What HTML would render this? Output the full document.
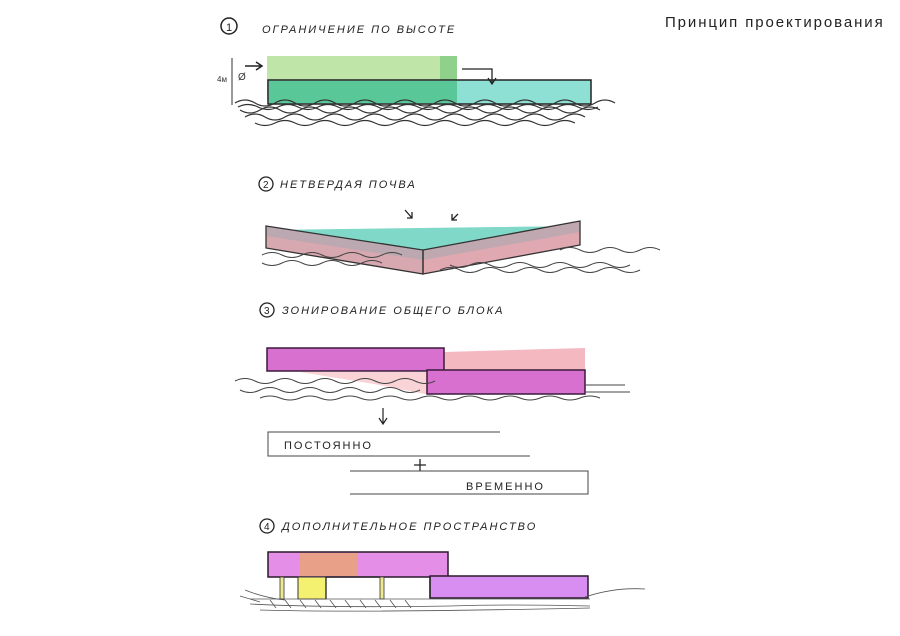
<!DOCTYPE html>
<html><head><meta charset="utf-8"><style>
body{margin:0;background:#fff;width:900px;height:636px;overflow:hidden;font-family:"Liberation Sans","Noto Sans CJK SC",sans-serif}
svg{position:absolute;left:0;top:0}
.t{font-family:"Liberation Sans",sans-serif;font-style:italic;fill:#222;letter-spacing:2px}
</style></head><body>
<svg width="900" height="636" viewBox="0 0 900 636">
<text x="665" y="27" font-size="15" fill="#222" font-family="Liberation Sans,sans-serif" letter-spacing="1.9">Принцип проектирования</text>

<!-- 1 -->
<circle cx="229" cy="26" r="8" fill="none" stroke="#222" stroke-width="1.5"/>
<text x="226" y="31" font-size="11" fill="#222">1</text>
<text x="262" y="33" font-size="11" class="t">ОГРАНИЧЕНИЕ ПО ВЫСОТЕ</text>
<rect x="267" y="56" width="190" height="44" fill="#bfe6a8"/>
<rect x="440" y="56" width="17" height="44" fill="#8fd08a"/>
<rect x="268" y="80" width="323" height="24" fill="#8fe0d4" stroke="#222" stroke-width="1.5"/>
<rect x="269" y="81" width="188" height="22" fill="#4cc08a" opacity="0.8"/>
<path d="M245 66 H262 M256 62 L262 66 L256 70" fill="none" stroke="#222" stroke-width="1.5"/>
<path d="M462 69 H492 V83 M488 78 L492 84 L496 78" fill="none" stroke="#222" stroke-width="1.3"/>
<path d="M232 58 V105" stroke="#333" stroke-width="1"/>
<text x="217" y="82" font-size="8" fill="#333">4м</text>
<text x="238" y="80" font-size="10" fill="#333">Ø</text>
<g fill="none" stroke="#333" stroke-width="1.2">
<path d="M235 103 q10 -6 20 0 t20 0 t20 0 t20 0 t20 0 t20 0 t20 0 t20 0 t20 0 t20 0 t20 0 t20 0 t20 0 t20 0 t20 0 t20 0 t20 0 t20 0 t20 0"/>
<path d="M240 110 q10 6 20 0 t20 0 t20 0 t20 0 t20 0 t20 0 t20 0 t20 0 t20 0 t20 0 t20 0 t20 0 t20 0 t20 0 t20 0 t20 0 t20 0 t20 0"/>
<path d="M245 117 q10 -6 20 0 t20 0 t20 0 t20 0 t20 0 t20 0 t20 0 t20 0 t20 0 t20 0 t20 0 t20 0 t20 0 t20 0 t20 0 t20 0 t20 0"/>
<path d="M255 123 q10 5 20 0 t20 0 t20 0 t20 0 t20 0 t20 0 t20 0 t20 0 t20 0 t20 0 t20 0 t20 0 t20 0 t20 0 t20 0 t20 0"/>
<path d="M238 107 q10 -5 20 0 t20 0 t20 0 t20 0 t20 0 t20 0 t20 0 t20 0 t20 0 t20 0 t20 0 t20 0 t20 0 t20 0 t20 0 t20 0 t20 0 t20 0"/>
</g>

<!-- 2 -->
<circle cx="266" cy="184" r="7" fill="none" stroke="#222" stroke-width="1.3"/>
<text x="263" y="188" font-size="10" fill="#222">2</text>
<text x="280" y="188" font-size="11" class="t">НЕТВЕРДАЯ ПОЧВА</text>
<path d="M405 210 l7 8 M412 212 v6 h-5 M458 214 l-6 6 M452 214 v6 h5" fill="none" stroke="#222" stroke-width="1.3"/>
<polygon points="266,226 423,250 580,221 580,226 266,230" fill="#7fd8c8"/>
<polygon points="266,226 423,250 423,274 266,248" fill="#d8a8b0"/>
<polygon points="423,250 580,221 580,245 423,274" fill="#e0a8b0"/>
<polygon points="266,226 423,250 423,260 266,236" fill="#a9a9b0" opacity="0.6"/>
<polygon points="423,250 580,221 580,232 423,260" fill="#a9a9b0" opacity="0.6"/>
<polygon points="266,226 423,250 423,274 266,248" fill="none" stroke="#333" stroke-width="1.3"/>
<polygon points="423,250 580,221 580,245 423,274" fill="none" stroke="#333" stroke-width="1.3"/>
<g fill="none" stroke="#444" stroke-width="1">
<path d="M262 255 q10 -5 20 0 t20 0 t20 0 t20 0 t20 0 t20 0 t20 0"/>
<path d="M262 263 q10 5 20 0 t20 0 t20 0 t20 0 t20 0 t20 0"/>
<path d="M440 270 q10 -5 20 0 t20 0 t20 0 t20 0 t20 0 t20 0 t20 0 t20 0 t20 0 t20 0"/>
<path d="M450 265 q10 5 20 0 t20 0 t20 0 t20 0 t20 0 t20 0 t20 0 t20 0 t20 0"/>
<path d="M560 250 q10 -5 20 0 t20 0 t20 0 t20 0 t20 0"/>
</g>

<!-- 3 -->
<circle cx="267" cy="310" r="7" fill="none" stroke="#222" stroke-width="1.3"/>
<text x="264" y="314" font-size="10" fill="#222">3</text>
<text x="282" y="314" font-size="11" class="t">ЗОНИРОВАНИЕ ОБЩЕГО БЛОКА</text>
<polygon points="444,352 585,348 585,372 444,372" fill="#f4b8c0"/>
<polygon points="300,372 430,372 430,395 380,385" fill="#f8c8cc" opacity="0.8"/>
<rect x="267" y="348" width="177" height="23" fill="#d870d0" stroke="#3a1a3a" stroke-width="1.5"/>
<rect x="427" y="370" width="158" height="24" fill="#d870d0" stroke="#3a1a3a" stroke-width="1.5"/>
<g fill="none" stroke="#444" stroke-width="1">
<path d="M235 381 q10 -5 20 0 t20 0 t20 0 t20 0 t20 0 t20 0 t20 0 t20 0 t20 0 t20 0"/>
<path d="M240 390 q10 5 20 0 t20 0 t20 0 t20 0 t20 0 t20 0 t20 0 t20 0 t20 0"/>
<path d="M260 398 q10 -4 20 0 t20 0 t20 0 t20 0 t20 0 t20 0 t20 0 t20 0 t20 0 t20 0 t20 0 t20 0 t20 0 t20 0 t20 0 t20 0 t20 0"/>
<path d="M585 385 h40 M585 392 h45"/>
</g>
<path d="M383 408 V423 M379 418 L383 424 L387 418" fill="none" stroke="#222" stroke-width="1.2"/>
<path d="M500 432 H268 V456 H530" fill="none" stroke="#444" stroke-width="1"/>
<text x="284" y="449" font-size="11" fill="#222" letter-spacing="2">ПОСТОЯННО</text>
<path d="M420 459 v12 M414 465 h12" stroke="#222" stroke-width="1.3"/>
<path d="M350 471 H588 V494 H350" fill="none" stroke="#444" stroke-width="1"/>
<text x="466" y="490" font-size="11" fill="#222" letter-spacing="2">ВРЕМЕННО</text>

<!-- 4 -->
<circle cx="267" cy="526" r="7" fill="none" stroke="#222" stroke-width="1.3"/>
<text x="264" y="530" font-size="10" fill="#222">4</text>
<text x="282" y="530" font-size="11" class="t">ДОПОЛНИТЕЛЬНОЕ ПРОСТРАНСТВО</text>
<rect x="268" y="552" width="180" height="25" fill="#e48ee8" stroke="#2a1a2a" stroke-width="1.5"/>
<rect x="299" y="553" width="58" height="23" fill="#e8a088"/>
<rect x="430" y="576" width="158" height="22" fill="#d88ef0" stroke="#2a1a2a" stroke-width="1.5"/>
<rect x="298" y="577" width="28" height="22" fill="#f4f070" stroke="#333" stroke-width="1"/>
<path d="M326 577 V599 M326 577 H380 M430 577 V598" stroke="#222" stroke-width="1.3" fill="none"/>
<rect x="280" y="577" width="4" height="22" fill="#eee890" stroke="#333" stroke-width="0.8"/>
<rect x="380" y="577" width="4" height="22" fill="#eee890" stroke="#333" stroke-width="0.8"/>
<g fill="none" stroke="#555" stroke-width="0.8">
<path d="M250 599 H590"/>
<path d="M245 590 q20 8 40 10 M250 604 q80 4 200 2 q60 -2 140 0 M260 610 q100 3 330 -2 M585 597 q30 -10 60 -8 M240 596 l20 6"/>
<path d="M270 600 l6 8 M285 600 l6 8 M300 600 l6 8 M315 600 l6 8 M330 600 l6 8 M345 600 l6 8 M360 600 l6 8 M375 600 l6 8 M390 600 l6 8 M405 600 l6 8"/>
</g>
</svg>
</body></html>
